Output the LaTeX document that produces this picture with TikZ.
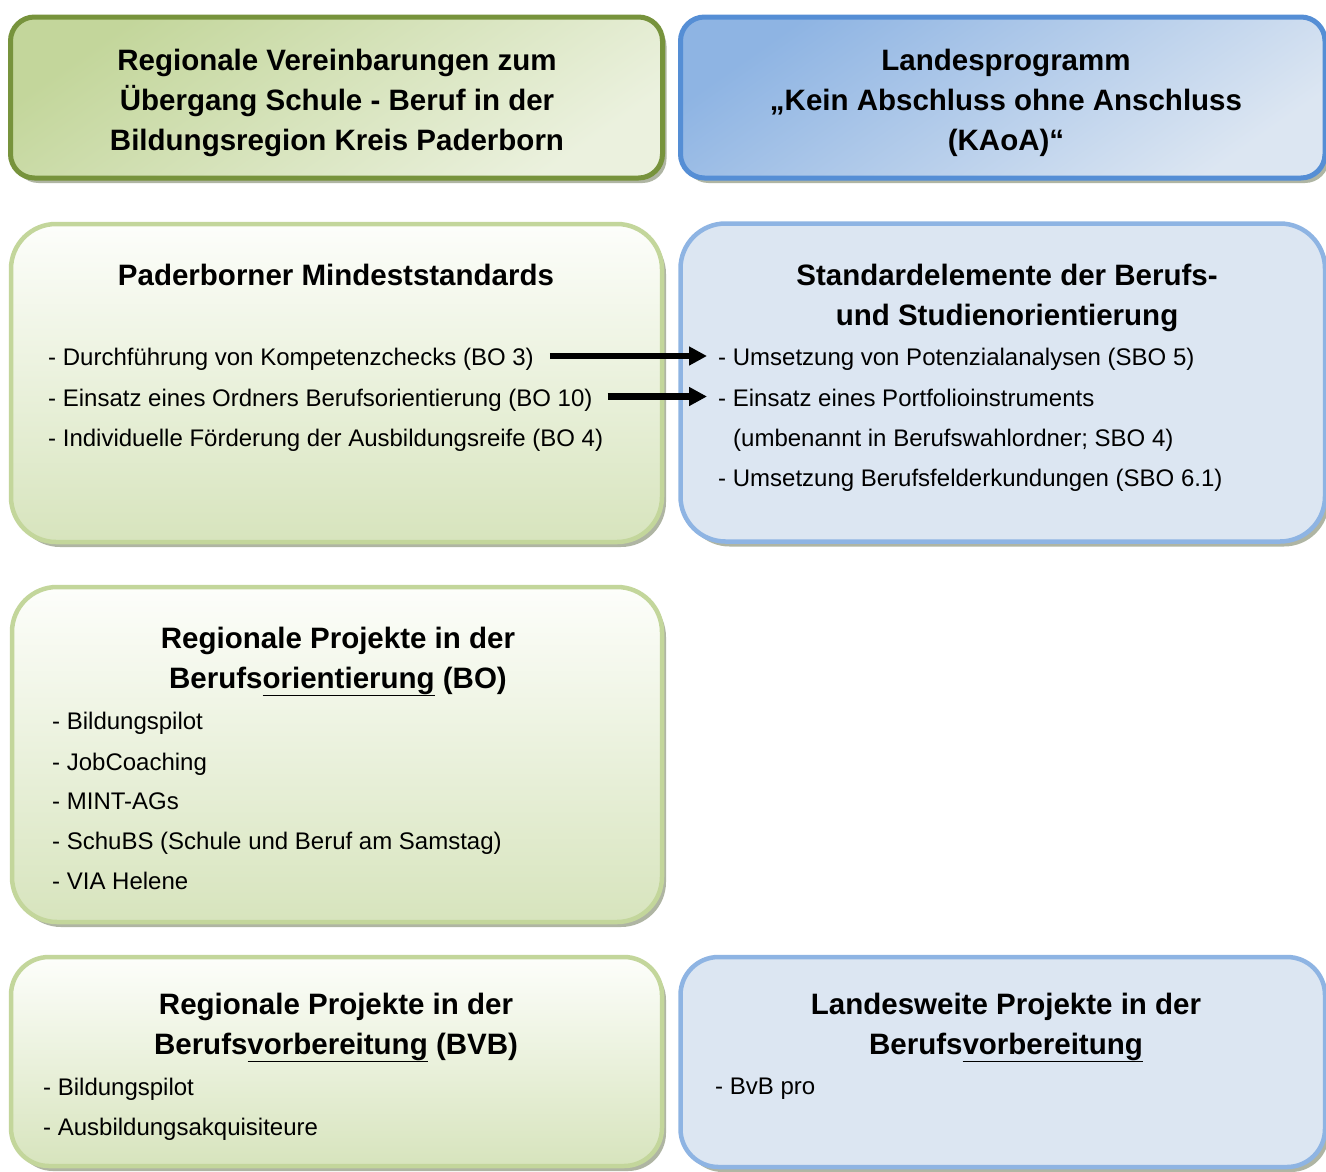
\documentclass[tikz,border=0pt]{standalone}
\usepackage{fontspec}
\setmainfont{Liberation Sans}
\usetikzlibrary{arrows.meta,shadows}
\definecolor{gdark}{HTML}{77933C}
\definecolor{gmid}{HTML}{C3D69B}
\definecolor{glight}{HTML}{EBF1DE}
\definecolor{gbot}{HTML}{D7E4BD}
\definecolor{gtop}{HTML}{FDFEFB}
\definecolor{bdark}{HTML}{558ED5}
\definecolor{bmid}{HTML}{8EB4E3}
\definecolor{blight}{HTML}{DCE6F2}
\definecolor{shadowc}{HTML}{6F7A58}
\begin{document}
\begin{tikzpicture}[x=1pt,y=-1pt,
  box/.style={rectangle, inner sep=0pt,
    drop shadow={shadow xshift=4pt, shadow yshift=-5pt, fill=shadowc, opacity=0.55}},
  topgreen/.style={box, rounded corners=24pt, draw=gdark, line width=5pt,
    top color=gmid, bottom color=glight, shading angle=35},
  topblue/.style={box, rounded corners=24pt, draw=bdark, line width=5pt,
    top color=bmid, bottom color=blight, shading angle=35},
  greenbox/.style={box, draw=gmid, line width=4.5pt,
    top color=gtop, bottom color=gbot},
  bluebox/.style={box, draw=bmid, line width=4.5pt, fill=blight},
  head/.style={anchor=base, inner sep=0pt, font=\fontsize{29.5}{34}\selectfont\bfseries},
  item/.style={anchor=base west, inner sep=0pt, font=\fontsize{24}{28}\selectfont},
  arr/.style={line width=6.5pt, -{Triangle[length=18pt,width=18pt]}}
]
\useasboundingbox (0,0) rectangle (1326,1171);
\fill[white] (0,0) rectangle (1326,1171);
\begin{scope}
\clip (0,0) rectangle (1326,1171);
% boxes
\node[topgreen, minimum width=652pt, minimum height=161pt] (b1) at (336.5,97.5) {};
\node[topblue, minimum width=644.5pt, minimum height=161pt] (b2) at (1002.75,97.5) {};
\node[greenbox, rounded corners=45pt, minimum width=651pt, minimum height=318pt] (b3) at (336.5,383) {};
\node[bluebox, rounded corners=45pt, minimum width=644.5pt, minimum height=318pt] (b4) at (1002.75,382.5) {};
\node[greenbox, rounded corners=45pt, minimum width=650pt, minimum height=335pt] (b5) at (337,754.5) {};
\node[greenbox, rounded corners=38pt, minimum width=651pt, minimum height=209pt] (b6) at (336.5,1061.5) {};
\node[bluebox, rounded corners=38pt, minimum width=644.5pt, minimum height=210pt] (b7) at (1002.75,1062) {};
\end{scope}

% box 1
\node[head] (t1a) at (337,70) {Regionale Vereinbarungen zum};
\node[head] (t1b) at (337,110) {Übergang Schule - Beruf in der};
\node[head] (t1c) at (337,150) {Bildungsregion Kreis Paderborn};
% box 2
\node[head] (t2a) at (1006,70) {Landesprogramm};
\node[head] (t2b) at (1006,110) {„Kein Abschluss ohne Anschluss};
\node[head] (t2c) at (1006,150) {(KAoA)“};
% box 3
\node[head] (t3) at (336,285) {Paderborner Mindeststandards};
\node[item] (i1) at (48,365.5) {- Durchführung von Kompetenzchecks (BO 3)};
\node[item] (i2) at (48,406) {- Einsatz eines Ordners Berufsorientierung (BO 10)};
\node[item] (i3) at (48,446) {- Individuelle Förderung der Ausbildungsreife (BO 4)};
% box 4
\node[head] (t4a) at (1007,285) {Standardelemente der Berufs-};
\node[head] (t4b) at (1007,325) {und Studienorientierung};
\node[item] (j1) at (718,365.5) {- Umsetzung von Potenzialanalysen (SBO 5)};
\node[item] (j2) at (718,406) {- Einsatz eines Portfolioinstruments};
\node[item] (j2b) at (733,446) {(umbenannt in Berufswahlordner; SBO 4)};
\node[item] (j3) at (718,486) {- Umsetzung Berufsfelderkundungen (SBO 6.1)};
% box 5
\node[head] (t5a) at (338,648) {Regionale Projekte in der};
\node[head] (t5b) at (338,688) {Berufs\underline{orientierung} (BO)};
\node[item] (k1) at (52,729) {- Bildungspilot};
\node[item] (k2) at (52,770) {- JobCoaching};
\node[item] (k3) at (52,809) {- MINT-AGs};
\node[item] (k4) at (52,849) {- SchuBS (Schule und Beruf am Samstag)};
\node[item] (k5) at (52,889) {- VIA Helene};
% box 6
\node[head] (t6a) at (336,1014) {Regionale Projekte in der};
\node[head] (t6b) at (336,1054) {Berufs\underline{vorbereitung} (BVB)};
\node[item] (m1) at (43,1095) {- Bildungspilot};
\node[item] (m2) at (43,1135) {- Ausbildungsakquisiteure};
% box 7
\node[head] (t7a) at (1006,1014) {Landesweite Projekte in der};
\node[head] (t7b) at (1006,1054) {Berufs\underline{vorbereitung}};
\node[item] (n1) at (715,1094) {- BvB pro};

% arrows
\draw[arr] ([xshift=16pt,yshift=9.5pt]i1.base east) -- ([xshift=-11pt,yshift=9.5pt]j1.base west);
\draw[arr] ([xshift=15pt,yshift=9.5pt]i2.base east) -- ([xshift=-11pt,yshift=9.5pt]j2.base west);
\end{tikzpicture}
\end{document}
